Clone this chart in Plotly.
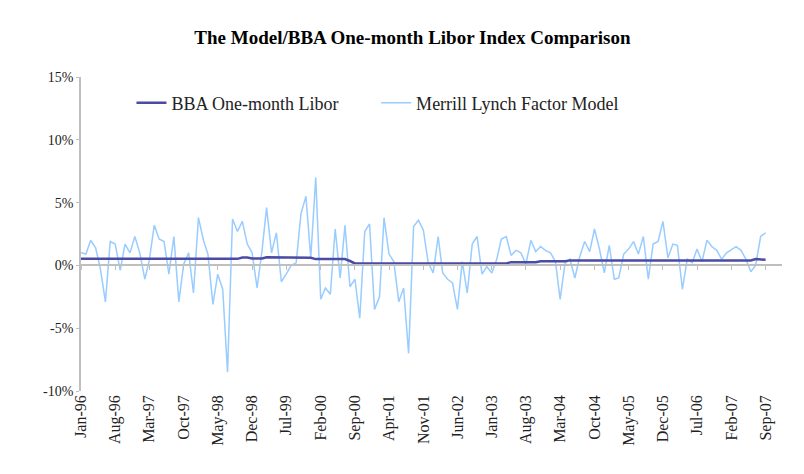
import pandas as pd
import plotly.graph_objects as go

# Monthly observations, Jan-96 .. Sep-07 (monthly returns, %)
merrill = [
    1.0, 0.9, 2.0, 1.4, -0.3, -2.9, 1.9, 1.7, -0.4, 1.7,
    1.0, 2.3, 1.0, -1.1, 0.4, 3.2, 2.1, 1.9, -0.7, 2.3,
    -2.9, 0.1, 1.0, -2.2, 3.8, 2.0, 0.9, -3.1, -0.7, -1.9,
    -8.5, 3.7, 2.7, 3.5, 1.7, 1.0, -1.8, 1.2, 4.6, 1.0,
    2.6, -1.3, -0.7, 0.0, 0.2, 4.1, 5.5, 0.6, 7.0, -2.7,
    -1.8, -2.3, 2.9, -1.0, 3.2, -1.7, -1.1, -4.2, 2.7, 3.3,
    -3.5, -2.5, 3.8, 0.9, 0.3, -2.9, -1.8, -7.0, 3.1, 3.6,
    2.8, 0.2, -0.6, 2.3, -0.6, -1.1, -1.4, -3.5, 0.3, -2.2,
    1.7, 2.3, -0.7, -0.1, -0.6, 0.5, 2.1, 2.3, 0.8, 1.2,
    1.0, 0.1, 2.0, 1.1, 1.5, 1.2, 1.0, 0.3, -2.7, 0.2,
    0.5, -1.0, 0.7, 1.9, 1.1, 2.9, 1.3, -0.6, 1.6, -1.1,
    -1.0, 0.9, 1.3, 1.9, 0.9, 2.3, -1.1, 1.7, 1.9, 3.5,
    0.6, 1.7, 1.6, -1.9, 0.5, 0.2, 1.3, 0.3, 2.0, 1.5,
    1.2, 0.5, 1.0, 1.3, 1.5, 1.2, 0.5, -0.5, 0.0, 2.3, 2.6,
]

libor = [
    0.52, 0.52, 0.52, 0.52, 0.52, 0.52, 0.52, 0.52, 0.52, 0.52,
    0.52, 0.52, 0.52, 0.52, 0.52, 0.52, 0.52, 0.52, 0.52, 0.48,
    0.48, 0.48, 0.52, 0.52, 0.52, 0.52, 0.52, 0.52, 0.52, 0.52,
    0.52, 0.52, 0.52, 0.62, 0.62, 0.55, 0.55, 0.55, 0.64, 0.64,
    0.64, 0.64, 0.64, 0.64, 0.64, 0.64, 0.64, 0.60, 0.50, 0.50,
    0.50, 0.50, 0.50, 0.50, 0.50, 0.35, 0.16, 0.16, 0.16, 0.16,
    0.16, 0.16, 0.16, 0.16, 0.16, 0.16, 0.16, 0.16, 0.16, 0.16,
    0.16, 0.16, 0.16, 0.16, 0.16, 0.16, 0.16, 0.16, 0.16, 0.16,
    0.16, 0.16, 0.16, 0.16, 0.16, 0.16, 0.16, 0.16, 0.26, 0.26,
    0.26, 0.26, 0.26, 0.26, 0.33, 0.33, 0.33, 0.33, 0.33, 0.33,
    0.40, 0.40, 0.40, 0.40, 0.40, 0.40, 0.40, 0.40, 0.40, 0.40,
    0.40, 0.40, 0.40, 0.40, 0.40, 0.40, 0.40, 0.40, 0.40, 0.40,
    0.40, 0.40, 0.40, 0.40, 0.40, 0.40, 0.40, 0.40, 0.40, 0.40,
    0.40, 0.40, 0.40, 0.40, 0.40, 0.40, 0.40, 0.40, 0.50, 0.50, 0.45,
]

months = pd.date_range("1996-01-01", periods=len(merrill), freq="MS")

tick_labels = ["Jan-96", "Aug-96", "Mar-97", "Oct-97", "May-98", "Dec-98", "Jul-99",
               "Feb-00", "Sep-00", "Apr-01", "Nov-01", "Jun-02", "Jan-03", "Aug-03",
               "Mar-04", "Oct-04", "May-05", "Dec-05", "Jul-06", "Feb-07", "Sep-07"]
tick_dates = list(months[::7])[:len(tick_labels)]

y_ticks = [-10, -5, 0, 5, 10, 15]
y_tick_text = ["-10%", "-5%", "0%", "5%", "10%", "15%"]

serif = "Liberation Serif, Times New Roman, serif"
axis_grey = "#BFBFBF"
x_range = ["1996-01-01", "2007-12-12"]
y_range = [-10, 15]

fig = go.Figure()
fig.add_trace(go.Scatter(
    x=months, y=merrill, mode="lines", name="Merrill Lynch Factor Model",
    line=dict(color="#99CCFF", width=1.5), xaxis="x", yaxis="y", legend="legend2",
))
fig.add_trace(go.Scatter(
    x=months, y=libor, mode="lines", name="BBA One-month Libor",
    line=dict(color="#4B4BA6", width=2.5), xaxis="x2", yaxis="y", legend="legend",
))

zero_pos = (0 - y_range[0]) / (y_range[1] - y_range[0])
legend_font = dict(family=serif, size=18, color="#222222")

fig.update_layout(
    width=804, height=474,
    margin=dict(l=81, r=22, t=77, b=83),
    paper_bgcolor="white", plot_bgcolor="white",
    title=dict(text="<b>The Model/BBA One-month Libor Index Comparison</b>",
               x=0.513, xanchor="center", y=0.922, yanchor="middle",
               font=dict(family=serif, size=19, color="black")),
    showlegend=True,
    legend=dict(orientation="h", x=0.072, y=0.917, xanchor="left", yanchor="middle",
                bgcolor="rgba(0,0,0,0)", font=legend_font),
    legend2=dict(orientation="h", x=0.421, y=0.917, xanchor="left", yanchor="middle",
                 bgcolor="rgba(0,0,0,0)", font=legend_font),
    xaxis=dict(type="date", range=x_range, tickvals=tick_dates, ticktext=tick_labels,
               tickangle=-90, showline=False, showgrid=False, zeroline=False,
               ticks="", tickfont=dict(family=serif, size=16, color="#222222")),
    xaxis2=dict(type="date", range=x_range, overlaying="x", matches="x",
                anchor="free", position=zero_pos, side="bottom",
                tickvals=tick_dates, showticklabels=False,
                showline=True, linecolor=axis_grey, linewidth=1.5,
                ticks="outside", ticklen=4, tickcolor=axis_grey,
                showgrid=False, zeroline=False),
    yaxis=dict(range=y_range, tickvals=y_ticks, ticktext=y_tick_text,
               showline=True, linecolor=axis_grey, linewidth=1.5,
               ticks="outside", ticklen=3, tickcolor=axis_grey,
               showgrid=False, zeroline=False,
               tickfont=dict(family=serif, size=14, color="#222222")),
)

fig.write_html("out.html", config={"displayModeBar": False},
               post_script="document.body.style.margin='0';document.body.style.overflow='hidden';")
